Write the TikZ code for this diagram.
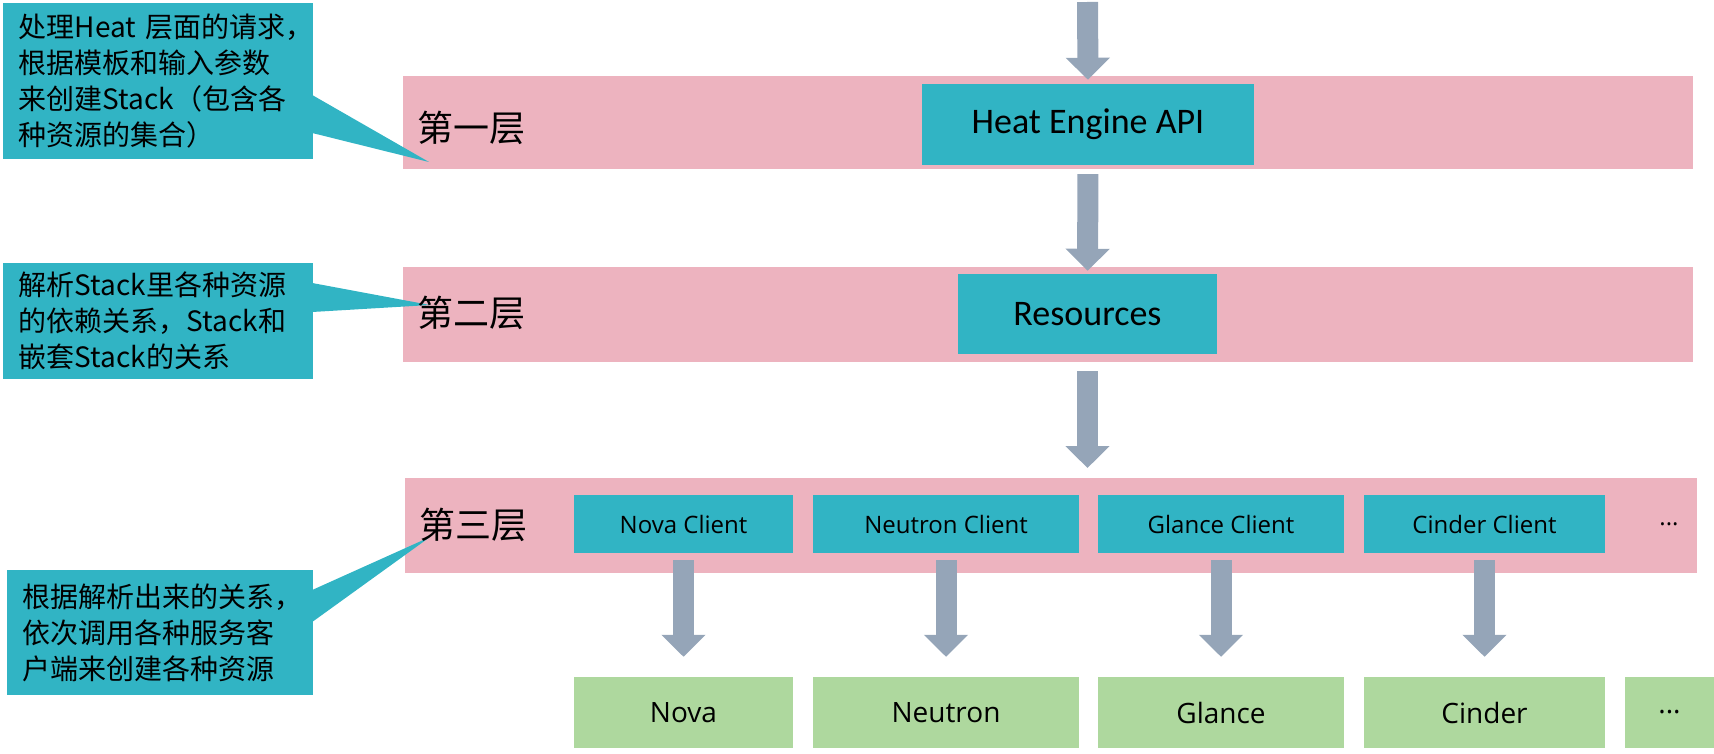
\documentclass[tikz,border=0pt]{standalone}
\usepackage{fontspec}
\setmainfont{Carlito}
\newfontfamily\cjk{Noto Sans CJK SC}
\newfontfamily\segoe{Open Sans}
\usetikzlibrary{arrows.meta}
\definecolor{bandpink}{HTML}{EDB3BF}
\definecolor{boxteal}{HTML}{31B4C4}
\definecolor{boxgreen}{HTML}{AED89E}
\definecolor{arrowgrey}{HTML}{95A5B8}

\begin{document}
\begin{tikzpicture}[x=1pt,y=-1pt,
  band/.style={fill=bandpink,inner sep=0pt,anchor=north west},
  tealbox/.style={fill=boxteal,inner sep=0pt},
  greenbox/.style={fill=boxgreen,inner sep=0pt,minimum height=71pt,font=\segoe\fontsize{28}{32}\selectfont},
  clientbox/.style={fill=boxteal,inner sep=0pt,minimum height=58pt,font=\segoe\fontsize{24}{28}\selectfont},
  callout/.style={fill=boxteal,inner xsep=16pt,inner ysep=0pt,align=left,font=\cjk\fontsize{28}{36}\selectfont},
  layer/.style={inner sep=0pt,anchor=west,font=\cjk\fontsize{36}{40}\selectfont},
  bigarrow/.style={draw=arrowgrey,line width=21pt,-{Triangle[width=43pt,length=22pt]}}]
\useasboundingbox (0,0) rectangle (1714,754);

\node[band,minimum width=1290pt,minimum height=93pt] (band1) at (403,76) {};
\node[band,minimum width=1290pt,minimum height=95pt] (band2) at (403,267) {};
\node[band,minimum width=1292pt,minimum height=95pt] (band3) at (405,478) {};

\node[tealbox,minimum width=332pt,minimum height=81pt,font=\fontsize{36}{40}\selectfont] (api) at (1088,124.5) {Heat Engine API};
\node[tealbox,minimum width=259pt,minimum height=80pt,font=\fontsize{36}{40}\selectfont] (res) at (1087.5,314) {Resources};

\node[clientbox,minimum width=219pt] (novac) at (683.5,524) {Nova Client};
\node[clientbox,minimum width=266pt] (neutronc) at (946,524) {Neutron Client};
\node[clientbox,minimum width=246pt] (glancec) at (1221,524) {Glance Client};
\node[clientbox,minimum width=241pt] (cinderc) at (1484.5,524) {Cinder Client};
\node[font=\segoe\fontsize{24}{28}\selectfont,inner sep=0pt] (morec) at (1669,524) {...};

\node[greenbox,minimum width=219pt] (nova) at (683.5,712.5) {Nova};
\node[greenbox,minimum width=266pt] (neutron) at (946,712.5) {Neutron};
\node[greenbox,minimum width=246pt] (glance) at (1221,712.5) {Glance};
\node[greenbox,minimum width=241pt] (cinder) at (1484.5,712.5) {Cinder};
\node[greenbox,minimum width=89pt] (more) at (1669.5,712.5) {...};

\coordinate (in) at (1087.5,2);
\draw[bigarrow] (in) -- ([yshift=4pt]api.north);
\draw[bigarrow,shorten <=9pt,shorten >=3pt] (api.south) -- (res.north);
\draw[bigarrow,shorten <=17pt,shorten >=10pt] (res.south) -- (res.south |- band3.north);
\foreach \c/\s in {novac/nova,neutronc/neutron,glancec/glance,cinderc/cinder}
  \draw[bigarrow,shorten <=7pt,shorten >=20pt] (\c.south) -- (\s.north);

\node[callout,minimum height=156pt,text width=278pt] (note1) at (158,81)
  {\mbox{处理Heat 层面的请求，}\\根据模板和输入参数\\来创建Stack（包含各\\种资源的集合）};
\node[callout,minimum height=116pt,text width=278pt] (note2) at (158,321)
  {解析Stack里各种资源\\的依赖关系，Stack和\\嵌套Stack的关系};
\node[callout,minimum height=125pt,text width=274pt] (note3) at (160,632.5)
  {根据解析出来的关系，\\依次调用各种服务客\\户端来创建各种资源};

\coordinate (tip1) at (429,162);
\coordinate (tip2) at (430,305);
\coordinate (tip3) at (430,537);
\fill[boxteal] ([xshift=-1pt,yshift=-14pt]note1.east) -- (tip1) -- ([xshift=-1pt,yshift=-52pt]note1.east) -- cycle;
\fill[boxteal] ([xshift=-1pt,yshift=38pt]note2.east) -- (tip2) -- ([xshift=-1pt,yshift=9pt]note2.east) -- cycle;
\fill[boxteal] ([xshift=-1pt,yshift=42.5pt]note3.east) -- (tip3) -- ([xshift=-1pt,yshift=10.5pt]note3.east) -- cycle;

\node[layer] (layer1) at (417,128) {第一层};
\node[layer] (layer2) at (417,313) {第二层};
\node[layer] (layer3) at (419,525) {第三层};
\end{tikzpicture}
\end{document}
